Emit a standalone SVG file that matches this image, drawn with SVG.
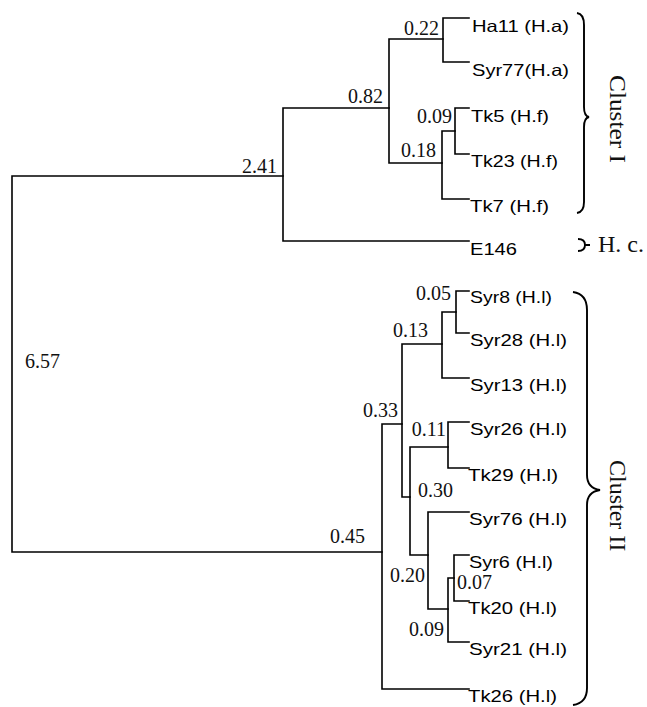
<svg xmlns="http://www.w3.org/2000/svg" width="647" height="707" viewBox="0 0 647 707">
<style>
.e{stroke:#000;stroke-width:1.6;fill:none;stroke-linecap:square}
.lf{font-family:"Liberation Sans",Arial,sans-serif;font-size:16.5px;fill:#000}
.bl{font-family:"Liberation Serif","Times New Roman",serif;font-size:20px;fill:#111}
.cl{font-family:"Liberation Serif","Times New Roman",serif;font-size:24px;fill:#111}
.br{stroke:#000;stroke-width:1.9;fill:none}
</style>
<rect width="647" height="707" fill="#fff"/>
<g id="connectors">
<path class="e" d="M283,176 H12 V552 H382"/>
<path class="e" d="M389,108 H283 V241 H469"/>
<path class="e" d="M443,39 H389 V163 H442"/>
<path class="e" d="M469,18 H443 V62 H469"/>
<path class="e" d="M455,131 H442 V199 H469"/>
<path class="e" d="M469,108 H455 V154 H469"/>
<path class="e" d="M402,424 H382 V689 H469"/>
<path class="e" d="M442,344 H402 V497 H410"/>
<path class="e" d="M456,312 H442 V378 H469"/>
<path class="e" d="M469,291 H456 V333 H469"/>
<path class="e" d="M448,447 H410 V555 H428"/>
<path class="e" d="M469,422 H448 V468 H469"/>
<path class="e" d="M469,512 H428 V609 H448"/>
<path class="e" d="M454,578 H448 V642 H469"/>
<path class="e" d="M469,555 H454 V601 H469"/>
</g>
<g id="n-root"><text class="bl" x="25" y="368">6.57</text></g>
<g id="n-241"><text class="bl" x="277" y="173" text-anchor="end">2.41</text></g>
<g id="n-082"><text class="bl" x="383" y="103" text-anchor="end">0.82</text></g>
<g id="n-022"><text class="bl" x="439" y="35" text-anchor="end">0.22</text></g>
<g id="n-018"><text class="bl" x="436" y="157" text-anchor="end">0.18</text></g>
<g id="n-009a"><text class="bl" x="452" y="123" text-anchor="end">0.09</text></g>
<g id="n-045"><text class="bl" x="330" y="543">0.45</text></g>
<g id="n-033"><text class="bl" x="398" y="417" text-anchor="end">0.33</text></g>
<g id="n-013"><text class="bl" x="393" y="337">0.13</text></g>
<g id="n-005"><text class="bl" x="451" y="300" text-anchor="end">0.05</text></g>
<g id="n-011"><text class="bl" x="446" y="436" text-anchor="end">0.11</text></g>
<g id="n-030"><text class="bl" x="418" y="497">0.30</text></g>
<g id="n-020"><text class="bl" x="425" y="582" text-anchor="end">0.20</text></g>
<g id="n-009b"><text class="bl" x="444" y="636" text-anchor="end">0.09</text></g>
<g id="n-007"><text class="bl" x="457" y="589">0.07</text></g>
<g id="leaf-Ha11"><text class="lf" x="472" y="32" textLength="97" lengthAdjust="spacingAndGlyphs">Ha11 (H.a)</text></g>
<g id="leaf-Syr77"><text class="lf" x="472" y="76" textLength="97" lengthAdjust="spacingAndGlyphs">Syr77(H.a)</text></g>
<g id="leaf-Tk5"><text class="lf" x="471" y="122" textLength="78" lengthAdjust="spacingAndGlyphs">Tk5 (H.f)</text></g>
<g id="leaf-Tk23"><text class="lf" x="471" y="167" textLength="87" lengthAdjust="spacingAndGlyphs">Tk23 (H.f)</text></g>
<g id="leaf-Tk7"><text class="lf" x="470" y="212" textLength="79" lengthAdjust="spacingAndGlyphs">Tk7 (H.f)</text></g>
<g id="leaf-E146"><text class="lf" x="470" y="255" textLength="47" lengthAdjust="spacingAndGlyphs">E146</text></g>
<g id="leaf-Syr8"><text class="lf" x="470" y="303" textLength="82" lengthAdjust="spacingAndGlyphs">Syr8 (H.l)</text></g>
<g id="leaf-Syr28"><text class="lf" x="470" y="346" textLength="97" lengthAdjust="spacingAndGlyphs">Syr28 (H.l)</text></g>
<g id="leaf-Syr13"><text class="lf" x="470" y="391" textLength="97" lengthAdjust="spacingAndGlyphs">Syr13 (H.l)</text></g>
<g id="leaf-Syr26"><text class="lf" x="470" y="435" textLength="97" lengthAdjust="spacingAndGlyphs">Syr26 (H.l)</text></g>
<g id="leaf-Tk29"><text class="lf" x="468" y="481" textLength="90" lengthAdjust="spacingAndGlyphs">Tk29 (H.l)</text></g>
<g id="leaf-Syr76"><text class="lf" x="469" y="525" textLength="98" lengthAdjust="spacingAndGlyphs">Syr76 (H.l)</text></g>
<g id="leaf-Syr6"><text class="lf" x="469" y="568" textLength="84" lengthAdjust="spacingAndGlyphs">Syr6 (H.l)</text></g>
<g id="leaf-Tk20"><text class="lf" x="468" y="614" textLength="89" lengthAdjust="spacingAndGlyphs">Tk20 (H.l)</text></g>
<g id="leaf-Syr21"><text class="lf" x="469" y="655" textLength="98" lengthAdjust="spacingAndGlyphs">Syr21 (H.l)</text></g>
<g id="leaf-Tk26"><text class="lf" x="468" y="702" textLength="89" lengthAdjust="spacingAndGlyphs">Tk26 (H.l)</text></g>
<g id="cluster-I">
<path class="br" d="M577,13 Q584,14 584,25 L584,107 Q584,116 589,117 Q584,118 584,127 L584,202 Q584,212 577,213"/>
<text class="cl" transform="translate(610,75) rotate(90)" textLength="88" lengthAdjust="spacingAndGlyphs">Cluster I</text>
</g>
<g id="cluster-Hc">
<path class="br" d="M578,239 Q585,239 585,245 Q585,251 578,251 M585,245 H590"/>
<text class="cl" x="598" y="252">H. c.</text>
</g>
<g id="cluster-II">
<path class="br" d="M573,292 Q587,294 587,310 L587,475 Q587,488 600,490 Q587,492 587,505 L587,688 Q587,703 573,705"/>
<text class="cl" transform="translate(610,460) rotate(90)">Cluster II</text>
</g>
</svg>
